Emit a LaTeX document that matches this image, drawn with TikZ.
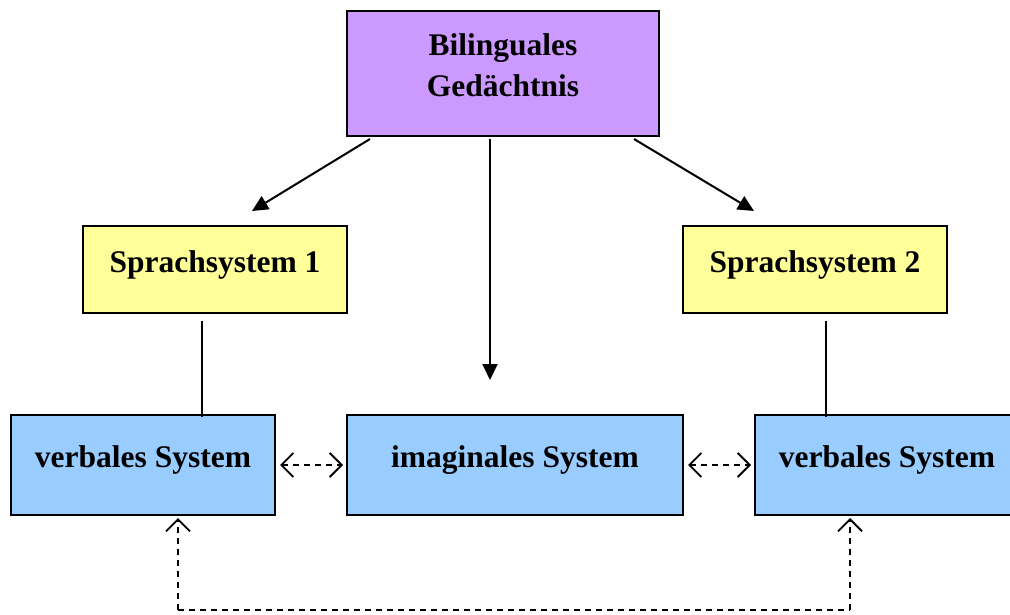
\documentclass[tikz,border=0pt]{standalone}
\usepackage{fontspec}
\setmainfont{Liberation Serif}
\usetikzlibrary{arrows.meta}
\definecolor{memfill}{HTML}{CC99FF}
\definecolor{langfill}{HTML}{FFFF99}
\definecolor{sysfill}{HTML}{99CCFF}
\begin{document}
\begin{tikzpicture}[x=1pt,y=-1pt,
  box/.style={draw=black,line width=2pt,inner sep=0pt,anchor=north west,
    font=\fontsize{31.5}{41}\selectfont\bfseries,align=center,text depth=16pt},
  solidarrow/.style={line width=2pt,-{Triangle[length=16pt,width=15pt]}},
  plainline/.style={line width=2pt},
  opentip/.tip={Straight Barb[length=12pt,width=24pt,line width=1.8pt]},
  linkline/.style={line width=1.6pt,dash pattern=on 6pt off 5pt,opentip-opentip},
  uparrow/.style={line width=1.6pt,dash pattern=on 6pt off 5pt,-opentip}]
  \useasboundingbox (0,0) rectangle (1010,615);
  \clip (0,0) rectangle (1010,615);

  % boxes
  \node[box,fill=memfill,minimum width=312pt,minimum height=125pt] (mem) at (346,10)
    {Bilinguales\\Gedächtnis};
  \node[box,fill=langfill,minimum width=264pt,minimum height=87pt] (lang1) at (82,225)
    {Sprachsystem 1};
  \node[box,fill=langfill,minimum width=264pt,minimum height=87pt] (lang2) at (682,225)
    {Sprachsystem 2};
  \node[box,fill=sysfill,minimum width=264pt,minimum height=100pt] (verb1) at (10,414)
    {verbales System};
  \node[box,fill=sysfill,minimum width=336pt,minimum height=100pt] (imag) at (346,414)
    {imaginales System};
  \node[box,fill=sysfill,minimum width=264pt,minimum height=100pt] (verb2) at (754,414)
    {verbales System};

  % connector end points
  \coordinate (m1) at (370,139);
  \coordinate (m2) at (490,139);
  \coordinate (m3) at (634,139);
  \coordinate (t1) at (252,211);
  \coordinate (t2) at (490,380);
  \coordinate (t3) at (754,211);
  \coordinate (l1a) at (202,321);
  \coordinate (l1b) at (202,417);
  \coordinate (l2a) at (826,321);
  \coordinate (l2b) at (826,417);
  \coordinate (b1) at (178,610);
  \coordinate (b2) at (850,610);
  \coordinate (v1) at (178,518);
  \coordinate (v2) at (850,518);

  % memory to the three systems
  \draw[solidarrow] (m1) -- (t1);
  \draw[solidarrow] (m2) -- (t2);
  \draw[solidarrow] (m3) -- (t3);

  % language systems to their verbal systems
  \draw[plainline] (l1a) -- (l1b);
  \draw[plainline] (l2a) -- (l2b);

  % links between verbal and imaginal systems
  \draw[linkline] ([xshift=4pt]verb1.east) -- ([xshift=-3pt]imag.west);
  \draw[linkline] ([xshift=4pt]imag.east) -- ([xshift=-3pt]verb2.west);

  % link between the two verbal systems
  \draw[linkline,-] (b1) -- (b2);
  \draw[uparrow] (b1) -- (v1);
  \draw[uparrow] (b2) -- (v2);
\end{tikzpicture}
\end{document}
